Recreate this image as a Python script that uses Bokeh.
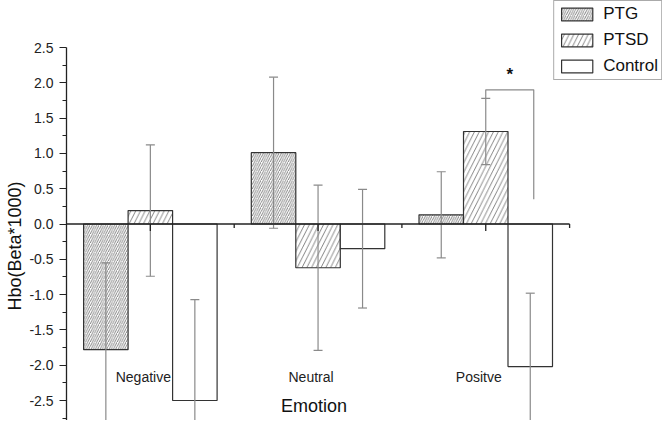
from bokeh.plotting import figure
from bokeh.models import Range1d, FixedTicker, NumeralTickFormatter, Legend, LegendItem, Title, ColumnDataSource
from bokeh.core.properties import value
from bokeh.embed import file_html
from bokeh.resources import INLINE

# ---- data ----
categories = ["Negative", "Neutral", "Positve"]
series = ["PTG", "PTSD", "Control"]
ptg = [-1.78, 1.01, 0.13]
ptg_err = [1.23, 1.07, 0.61]
ptsd = [0.19, -0.62, 1.31]
ptsd_err = [0.93, 1.17, 0.47]
control = [-2.50, -0.35, -2.02]
control_err = [1.43, 0.84, 1.04]
y_ticks = [-2.5, -2.0, -1.5, -1.0, -0.5, 0.0, 0.5, 1.0, 1.5, 2.0, 2.5]
y_minor = [-2.75, -2.25, -1.75, -1.25, -0.75, -0.25, 0.25, 0.75, 1.25, 1.75, 2.25]
sig_top = 1.90        # bracket height
sig_right_bottom = 0.35

FONT = "Liberation Sans"
W, H = 662, 420
LEFT = 66
TOP_PX = 47           # pixel row of the 2.5 tick
px_per_cat = 167.7
px_per_unit = 70.6

x0 = 0.5
x1 = x0 + (W - LEFT) / px_per_cat
y1 = 2.5 + TOP_PX / px_per_unit
y0 = 2.5 - (H - TOP_PX) / px_per_unit

p = figure(width=W, height=H, output_backend="svg", toolbar_location=None,
           x_range=Range1d(x0, x1), y_range=Range1d(y0, y1),
           x_axis_location=None, min_border_left=LEFT, min_border_right=0,
           min_border_top=0, min_border_bottom=0)
p.outline_line_color = None
p.xgrid.visible = False
p.ygrid.visible = False
p.background_fill_color = "white"
p.border_fill_color = "white"

yax = p.yaxis[0]
yax.ticker = FixedTicker(ticks=y_ticks, minor_ticks=y_minor)
yax.formatter = NumeralTickFormatter(format="0.0")
yax.bounds = (y0, 2.5)
yax.axis_line_color = "#222222"
yax.axis_line_width = 1.3
yax.major_tick_line_color = "#222222"
yax.minor_tick_line_color = "#222222"
yax.major_tick_out = 7
yax.major_tick_in = 0
yax.minor_tick_out = 4
yax.minor_tick_in = 0
yax.major_label_text_font = FONT
yax.major_label_text_font_size = "14px"
yax.major_label_text_color = "#222222"
yax.major_label_standoff = 6

xc = list(range(1, len(categories) + 1))
bw = 44.5 / px_per_cat
offsets = [-bw, 0.0, bw]
vals = [ptg, ptsd, control]
errs = [ptg_err, ptsd_err, control_err]
hatch_scales = [4.5, 9.5, 1]
patterns = ["/", "/", " "]
cap = 4.5 / px_per_cat

renderers = []
for i, s in enumerate(series):
    xs = [c + offsets[i] for c in xc]
    src = ColumnDataSource(dict(x=xs, top=vals[i],
                                xl=[x - cap for x in xs], xr=[x + cap for x in xs],
                                lo=[v - e for v, e in zip(vals[i], errs[i])],
                                hi=[v + e for v, e in zip(vals[i], errs[i])]))
    r = p.vbar(x="x", top="top", bottom=0, width=bw, source=src,
               fill_color="white", line_color="#333333", line_width=1.2,
               hatch_pattern=patterns[i], hatch_scale=hatch_scales[i],
               hatch_color="#666666", hatch_weight=0.8)
    renderers.append(r)
    # error bars
    p.segment(x0="x", y0="lo", x1="x", y1="hi", source=src, line_color="#8a8a8a", line_width=1.2)
    p.segment(x0="xl", y0="hi", x1="xr", y1="hi", source=src, line_color="#8a8a8a", line_width=1.2)
    p.segment(x0="xl", y0="lo", x1="xr", y1="lo", source=src, line_color="#8a8a8a", line_width=1.2)

# zero axis line with ticks
p.segment(x0=[0.5], y0=[0], x1=[0.5 + len(categories)], y1=[0], line_color="#222222", line_width=1.4)
maj_len = 7 / px_per_unit
min_len = 4 / px_per_unit
p.segment(x0=xc, y0=[0] * len(xc), x1=xc, y1=[-maj_len] * len(xc), line_color="#222222", line_width=1.3)
bounds_x = [c + 0.5 for c in xc]
p.segment(x0=bounds_x, y0=[0] * len(bounds_x), x1=bounds_x, y1=[-min_len] * len(bounds_x),
          line_color="#222222", line_width=1.3)

# category labels
p.text(x=xc, y=[-2.17] * len(xc), text=categories, x_offset=-7,
       text_font=value(FONT), text_font_size="14px", text_color="#222222",
       text_align="center", text_baseline="middle")
# x axis title
p.text(x=[2.0], y=[-2.58], text=["Emotion"], x_offset=-4,
       text_font=value(FONT), text_font_size="18px", text_color="#111111",
       text_align="center", text_baseline="middle")

# significance bracket
ci = 2
bx_l = xc[ci] + offsets[1]
bx_r = xc[ci] + offsets[2] + 3.5 / px_per_cat
p.line(x=[bx_l, bx_l, bx_r, bx_r],
       y=[ptsd[ci] + ptsd_err[ci], sig_top, sig_top, sig_right_bottom],
       line_color="#8a8a8a", line_width=1.2)
p.text(x=[(bx_l + bx_r) / 2], y=[sig_top + 0.22], text=["*"],
       text_font=value(FONT), text_font_size="17px", text_font_style="bold",
       text_color="#111111", text_align="center", text_baseline="middle")

# y axis title (as a side title so it can sit below the centre)
p.add_layout(Title(text="Hbo(Beta*1000)", align="left", offset=110,
                   text_font=FONT, text_font_size="18px", text_font_style="normal",
                   text_color="#111111", standoff=4), "left")

legend = Legend(items=[LegendItem(label=s, renderers=[r]) for s, r in zip(series, renderers)],
                location="top_right", margin=0, padding=3, spacing=6,
                glyph_width=39, glyph_height=16, label_standoff=7,
                label_text_font=FONT, label_text_font_size="17px", label_text_color="#111111",
                border_line_color="#555555", border_line_width=1,
                background_fill_alpha=1.0, label_height=17)
p.add_layout(legend)

open("out.html", "w").write(file_html(p, INLINE))
